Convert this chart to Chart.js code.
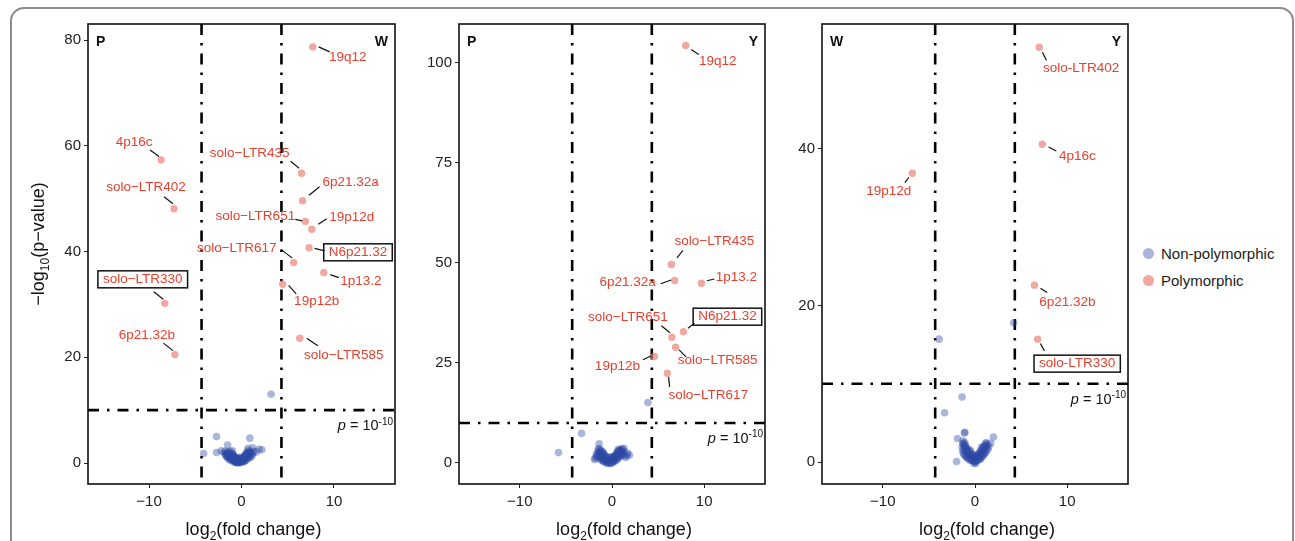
<!DOCTYPE html>
<html>
<head>
<meta charset="utf-8">
<script src="https://cdn.jsdelivr.net/npm/chart.js@4.4.0/dist/chart.umd.min.js"></script>
<style>
  html, body { margin: 0; padding: 0; background: #fff; }
  body { width: 1295px; height: 541px; position: relative; overflow: hidden; font-family: "Liberation Sans", Arial, sans-serif; }
  .frame { position: absolute; left: 10px; top: 7px; width: 1280px; height: 600px; border: 2px solid #8c8c8c; border-radius: 14px; }
  canvas { position: absolute; top: 0; }
  .legend { position: absolute; left: 1143px; top: 240px; font-size: 15px; color: #222; }
  .legend .row { height: 27px; display: flex; align-items: center; }
  .legend .dot { width: 11px; height: 11px; border-radius: 50%; margin-right: 7px; }
</style>
</head>
<body>
<div class="frame"></div>
<canvas id="c1" width="420" height="541" style="left:0px"></canvas>
<canvas id="c2" width="370" height="541" style="left:420px"></canvas>
<canvas id="c3" width="350" height="541" style="left:790px"></canvas>
<div class="legend">
  <div class="row"><span class="dot" style="background:#a9b5dd"></span>Non-polymorphic</div>
  <div class="row"><span class="dot" style="background:#f2a7a0"></span>Polymorphic</div>
</div>
<script>
// thresholds
const fcCutoff = 4.32
const pCutoff = 10

const xTicks = [-10, 0, 10]

// --- panel 1: P vs W ---
const p1Corner = ['P', 'W']
const p1YTicks = [0, 20, 40, 60, 80]
const p1Names = ['19q12', '4p16c', 'solo−LTR402', 'solo−LTR435', '6p21.32a', 'solo−LTR651', '19p12d', 'N6p21.32', 'solo−LTR617', '1p13.2', '19p12b', 'solo−LTR330', 'solo−LTR585', '6p21.32b']
const p1Fc = [7.7, -8.7, -7.3, 6.5, 6.6, 6.9, 7.6, 7.3, 5.65, 8.9, 4.45, -8.3, 6.3, -7.2]
const p1LogP = [78.7, 57.3, 48.1, 54.8, 49.6, 45.7, 44.2, 40.7, 37.9, 36.0, 33.8, 30.2, 23.6, 20.5]
const p1Boxed = ['N6p21.32', 'solo−LTR330']
const p1NonPoly = [
    [3.2, 13.0], [-4.1, 1.8], [-2.7, 5.0], [-2.7, 2.0], [-2.2, 2.3], [-1.5, 3.4], [0.9, 4.7], [0.7, 2.8],
    [1.2, 2.9], [1.9, 2.6], [1.6, 2.1], [2.2, 2.5], [-1.9, 1.9], [-1.8, 2.2], [1.3, 2.2],
    [-1.7, 1.8], [-1.6, 1.6], [-1.5, 1.5], [-1.4, 1.3], [-1.3, 1.2], [-1.2, 1.0], [-1.1, 0.9], [-1.0, 0.8],
    [-0.9, 0.6], [-0.8, 0.5], [-0.7, 0.4], [-0.6, 0.3], [-0.5, 0.2], [-0.4, 0.15], [-0.3, 0.1], [-0.2, 0.15],
    [-0.1, 0.25], [0.0, 0.35], [0.1, 0.5], [0.2, 0.6], [0.3, 0.75], [0.4, 0.9], [0.5, 1.05], [0.6, 1.2],
    [0.7, 1.4], [0.8, 1.6], [0.9, 1.8], [1.0, 2.0], [-1.4, 1.9], [-1.2, 1.6], [-1.0, 1.3], [-0.8, 1.0],
    [-0.6, 0.7], [-0.4, 0.5], [0.2, 0.9], [0.4, 1.3], [0.6, 1.6], [0.8, 2.0], [-1.6, 1.2], [-1.3, 0.8],
    [0.9, 1.3], [1.1, 1.6], [-0.9, 1.1], [0.3, 0.4], [-0.2, 0.4],
    [-1.5, 2.2], [-1.3, 1.9], [-1.1, 1.6], [-0.9, 1.4], [-0.7, 1.1], [-0.5, 0.8], [-0.3, 0.6], [-0.1, 0.6],
    [0.1, 0.8], [0.3, 1.1], [0.5, 1.4], [0.7, 1.8], [0.9, 2.2], [-1.7, 1.4], [-1.5, 1.0], [-1.3, 0.6],
    [-1.1, 0.5], [-0.9, 0.3], [-0.7, 0.15], [-0.5, 0.05], [0.1, 0.15], [0.3, 0.3], [0.5, 0.5], [0.7, 0.8],
    [0.9, 1.0], [1.1, 1.3], [1.2, 1.8], [-0.6, 0.05], [-0.2, 0.0],
    [-1.0, 1.8], [-0.9, 1.6], [-0.8, 1.3], [-0.6, 1.0], [-0.4, 0.8], [-0.2, 0.8], [0.0, 0.9], [0.2, 1.1],
    [0.35, 1.4], [0.45, 1.7], [0.55, 2.0], [-1.2, 2.2], [-1.0, 2.3], [0.7, 2.3], [-0.3, 1.0], [-0.1, 1.1],
    [-1.5, 1.8]
]

// --- panel 2: P vs Y ---
const p2Corner = ['P', 'Y']
const p2YTicks = [0, 25, 50, 75, 100]
const p2Names = ['19q12', 'solo−LTR435', '6p21.32a', '1p13.2', 'N6p21.32', 'solo−LTR651', 'solo−LTR585', '19p12b', 'solo−LTR617']
const p2Fc = [8.0, 6.45, 6.8, 9.7, 7.75, 6.5, 6.9, 4.6, 6.0]
const p2LogP = [104.3, 49.6, 45.6, 44.9, 32.8, 31.4, 28.9, 26.6, 22.4]
const p2Boxed = ['N6p21.32']
const p2NonPoly = [
    [3.9, 15.1], [-3.3, 7.4], [-5.8, 2.6], [-1.4, 4.8], [1.0, 3.3], [1.3, 3.6], [1.7, 2.4], [1.9, 2.0],
    [-1.9, 0.9], [-1.7, 1.6], [1.5, 1.4], [-1.6, 1.9], [-1.2, 2.9], [0.8, 3.1], [1.3, 1.9],
    [-1.5, 2.8], [-1.4, 2.5], [-1.3, 2.2], [-1.2, 1.9], [-1.1, 1.6], [-1.0, 1.4], [-0.9, 1.1], [-0.8, 0.9],
    [-0.7, 0.7], [-0.6, 0.5], [-0.5, 0.3], [-0.4, 0.2], [-0.3, 0.1], [-0.2, 0.15], [-0.1, 0.3], [0.0, 0.5],
    [0.1, 0.7], [0.2, 0.9], [0.3, 1.1], [0.4, 1.3], [0.5, 1.6], [0.6, 1.9], [0.7, 2.2], [0.8, 2.5],
    [0.9, 2.8], [1.0, 3.0], [1.2, 2.6], [-1.3, 1.4], [-1.1, 1.0], [-0.9, 0.6], [0.3, 0.5], [0.6, 1.0],
    [0.9, 1.6], [1.1, 2.0], [-0.6, 1.0], [0.2, 1.5],
    [-1.5, 3.4], [-1.3, 2.9], [-1.1, 2.4], [-0.9, 1.9], [-0.7, 1.5], [-0.5, 1.1], [-0.3, 0.8], [-0.1, 0.9],
    [0.1, 1.3], [0.3, 1.7], [0.5, 2.2], [0.7, 2.7], [0.9, 3.3], [-1.7, 2.3], [-1.5, 1.7], [-1.3, 1.0],
    [-1.1, 0.6], [-0.9, 0.3], [-0.7, 0.1], [0.1, 0.2], [0.3, 0.5], [0.5, 0.9], [0.7, 1.3], [0.9, 1.9],
    [1.1, 2.4], [1.3, 3.0], [-0.5, -0.1], [-0.2, -0.2],
    [-1.2, 3.2], [-1.0, 2.8], [-0.9, 2.4], [-0.8, 2.0], [-0.6, 1.6], [-0.4, 1.3], [-0.2, 1.2], [0.0, 1.3],
    [0.2, 1.6], [0.4, 2.0], [0.5, 2.5], [0.6, 3.0], [0.7, 3.4], [-1.4, 3.6], [1.1, 3.6], [-0.1, 1.6],
    [0.0, 0.0], [-1.8, 1.2], [1.6, 1.8]
]

// --- panel 3: W vs Y ---
const p3Corner = ['W', 'Y']
const p3YTicks = [0, 20, 40]
const p3Names = ['solo-LTR402', '4p16c', '19p12d', '6p21.32b', 'solo-LTR330']
const p3Fc = [6.96, 7.3, -6.8, 6.45, 6.8]
const p3LogP = [53.0, 40.6, 36.9, 22.6, 15.7]
const p3Boxed = ['solo-LTR330']
const p3NonPoly = [
    [-3.9, 15.7], [4.2, 17.8], [-1.4, 8.3], [-3.3, 6.3], [-1.1, 3.8], [-1.15, 3.7], [-1.9, 3.0], [-2.0, 0.05],
    [2.0, 3.2], [1.7, 2.4], [-1.3, 2.4],
    [-1.3, 2.3], [-1.2, 2.0], [-1.1, 1.8], [-1.0, 1.5], [-0.9, 1.3], [-0.8, 1.1], [-0.7, 0.9], [-0.6, 0.7],
    [-0.5, 0.5], [-0.4, 0.35], [-0.3, 0.2], [-0.2, 0.1], [-0.1, 0.05], [0.0, 0.05], [0.1, 0.1], [0.2, 0.2],
    [0.3, 0.35], [0.4, 0.5], [0.5, 0.7], [0.6, 0.9], [0.7, 1.1], [0.8, 1.3], [0.9, 1.5], [1.0, 1.7],
    [1.1, 1.9], [1.2, 2.1], [1.3, 2.3], [-1.2, 1.0], [-1.0, 0.7], [-0.8, 0.5], [0.6, 0.4], [0.8, 0.7],
    [1.0, 1.0], [-0.5, 1.0], [0.3, 0.8], [1.4, 1.6], [-1.3, 1.5], [1.2, 1.3], [-0.2, 0.5], [0.1, 0.4],
    [-1.3, 2.7], [-1.1, 2.2], [-0.9, 1.7], [-0.7, 1.3], [-0.5, 0.9], [-0.3, 0.6], [-0.1, 0.45], [0.1, 0.5],
    [0.3, 0.75], [0.5, 1.1], [0.7, 1.5], [0.9, 1.9], [1.1, 2.3], [-1.4, 1.9], [-1.3, 1.2], [-1.1, 0.9],
    [-0.9, 0.6], [-0.7, 0.4], [-0.5, 0.2], [0.5, 0.3], [0.7, 0.6], [0.9, 0.9], [1.1, 1.2], [1.3, 1.8],
    [1.5, 2.0], [-0.1, -0.2], [0.1, -0.15],
    [-1.0, 2.0], [-0.8, 1.7], [-0.6, 1.4], [-0.4, 1.1], [-0.2, 0.9], [0.0, 0.8], [0.2, 0.9], [0.4, 1.1],
    [0.6, 1.4], [0.8, 1.7], [1.0, 2.0], [-1.1, 2.5], [1.2, 2.5], [-0.5, 1.5], [0.7, 1.9]
]

// label placement in px relative to the point: text dx, dy, then leader line x1, y1, x2, y2
const p1LabelPos = [
    [35, 10, 6, 0, 17, 5], [-27, -18, -11, -10, -2, -3.5], [-28, -21, -10, -12, -1, -5],
    [-52, -20, -11, -12, -2.5, -5], [48, -18, 6.5, -5.5, 17, -14], [-50, -5, -10, -2, -3, -0.5],
    [40, -12, 6.5, -5, 15, -10.5], [49, 4.5, 5.5, 0.5, 15.7, 3], [-57, -14, -12.5, -13, -1.5, -4.5],
    [37, 8.5, 6.5, 2, 15, 5], [34, 17, 6, 1, 13.5, 9.5], [-22, -24, -11, -11.5, -1.5, -4],
    [44, 17, 7, 0, 18, 7.5], [-28, -19, -11.5, -11.5, -2, -4]
]
const p2LabelPos = [
    [32, 16, 5.5, 4, 13, 9], [43, -23, 5.5, -6.5, 11.5, -14], [-47, 2, -14, 3.3, -3.5, -0.5],
    [35, -5.5, 5.5, -2.5, 13, -4.3], [44, -15, 4.5, -3.5, 11, -8.5], [-44, -20, -10.5, -11.5, -2, -4.5],
    [42, 12.5, 3.5, 2.5, 10.5, 9.5], [-37, 9.5, -11.5, 3.3, -3.5, -0.5], [41, 21.5, 1.3, 3.5, 2.3, 13.5]
]
const p3LabelPos = [
    [42, 21.5, 3.3, 5, 7.3, 13.3], [35, 11.5, 6.3, 2.7, 14, 6.7], [-23.5, 18.5, -3.4, 4, -7.4, 9.4],
    [33, 17, 6, 3, 12.7, 7.4], [39.5, 24.5, 2.7, 4.3, 6.7, 11.7]
]

Chart.defaults.font.family = '"Liberation Sans", Arial, sans-serif'
const FONT = '"Liberation Sans", Arial, sans-serif'
const labelRed = '#e8402f'

function fmtTick(v) {
    return v < 0 ? '−' + Math.abs(v) : String(v)
}

// draw text made of parts with different sizes / offsets
function drawRich(ctx, parts, x, y, align) {
    let total = 0
    parts.forEach(p => {
        ctx.font = (p.style || '') + ' ' + p.size + 'px ' + FONT
        p.w = ctx.measureText(p.t).width
        total += p.w
    })
    let cx = align === 'center' ? x - total / 2 : align === 'right' ? x - total : x
    ctx.textAlign = 'left'
    ctx.textBaseline = 'alphabetic'
    parts.forEach(p => {
        ctx.font = (p.style || '') + ' ' + p.size + 'px ' + FONT
        ctx.fillText(p.t, cx, y + (p.dy || 0))
        cx += p.w
    })
}

function makeVolcano(id, opts) {
    const decor = {
        id: 'decor',
        beforeDatasetsDraw(chart) {
            const { ctx, chartArea: a, scales: { x, y } } = chart
            ctx.save()
            ctx.strokeStyle = '#000'
            ctx.lineWidth = 2.6
            ctx.lineCap = 'butt'
            ctx.setLineDash([11, 8, 2.5, 8])
            ;[-fcCutoff, fcCutoff].forEach(v => {
                const px = x.getPixelForValue(v)
                ctx.beginPath(); ctx.moveTo(px, a.top); ctx.lineTo(px, a.bottom); ctx.stroke()
            })
            const py = y.getPixelForValue(pCutoff)
            ctx.beginPath(); ctx.moveTo(a.left, py); ctx.lineTo(a.right, py); ctx.stroke()
            ctx.restore()
        },
        afterDatasetsDraw(chart) {
            const { ctx, chartArea: a, scales: { x, y } } = chart
            ctx.save()
            // frame
            ctx.strokeStyle = '#111'
            ctx.lineWidth = 1.6
            ctx.strokeRect(a.left, a.top, a.right - a.left, a.bottom - a.top)

            // corner letters
            ctx.fillStyle = '#111'
            ctx.font = 'bold 14px ' + FONT
            ctx.textBaseline = 'alphabetic'
            ctx.textAlign = 'left'
            ctx.fillText(opts.corner[0], a.left + 8, a.top + 22)
            ctx.textAlign = 'right'
            ctx.fillText(opts.corner[1], a.right - 7, a.top + 22)

            // p threshold note
            ctx.fillStyle = '#111'
            const py = y.getPixelForValue(pCutoff)
            drawRich(ctx, [
                { t: 'p', size: 14.5, style: 'italic' },
                { t: ' = 10', size: 14.5 },
                { t: '-10', size: 10, dy: -5.5 }
            ], a.right - 2, py + 20, 'right')

            // labels with leader lines
            const meta = chart.getDatasetMeta(1)
            opts.names.forEach((name, i) => {
                const pt = meta.data[i]
                const [dx, dy, x1, y1, x2, y2] = opts.labelPos[i]
                ctx.strokeStyle = '#111'
                ctx.lineWidth = 1.2
                ctx.setLineDash([])
                ctx.beginPath()
                ctx.moveTo(pt.x + x1, pt.y + y1)
                ctx.lineTo(pt.x + x2, pt.y + y2)
                ctx.stroke()
                ctx.font = '13.5px ' + FONT
                ctx.textAlign = 'center'
                ctx.textBaseline = 'middle'
                ctx.fillStyle = labelRed
                const tx = pt.x + dx, ty = pt.y + dy
                ctx.fillText(name, tx, ty)
                if (opts.boxed.includes(name)) {
                    const w = ctx.measureText(name).width + 10
                    ctx.strokeStyle = '#111'
                    ctx.lineWidth = 1.5
                    ctx.strokeRect(tx - w / 2, ty - 8.5, w, 17)
                }
            })

            // axis titles
            ctx.fillStyle = '#111'
            drawRich(ctx, [
                { t: 'log', size: 18 },
                { t: '2', size: 12, dy: 5 },
                { t: '(fold change)', size: 18 }
            ], (a.left + a.right) / 2 + 12, 535, 'center')

            if (opts.yTitle) {
                ctx.translate(44, 244)
                ctx.rotate(-Math.PI / 2)
                drawRich(ctx, [
                    { t: '−log', size: 18 },
                    { t: '10', size: 12, dy: 5 },
                    { t: '(p−value)', size: 18 }
                ], 0, 0, 'center')
            }
            ctx.restore()
        }
    }

    const tickStyle = { color: '#222', font: { size: 15 } }
    const gridStyle = { display: true, drawOnChartArea: false, drawTicks: true, tickLength: 4, tickColor: '#222', tickWidth: 1 }

    return new Chart(document.getElementById(id), {
        type: 'scatter',
        data: {
            datasets: [{
                label: 'Non-polymorphic',
                data: opts.nonPoly.map(p => ({ x: p[0], y: p[1] })),
                backgroundColor: 'rgba(45, 72, 165, 0.4)',
                borderWidth: 0,
                pointRadius: 3.8
            }, {
                label: 'Polymorphic',
                data: opts.fc.map((v, i) => ({ x: v, y: opts.logp[i] })),
                backgroundColor: 'rgba(236, 130, 120, 0.7)',
                borderWidth: 0,
                pointRadius: 3.7
            }]
        },
        options: {
            responsive: false,
            animation: false,
            devicePixelRatio: 1,
            layout: { padding: { left: 0, top: 24, right: opts.padRight, bottom: 27 } },
            plugins: { legend: { display: false }, tooltip: { enabled: false } },
            scales: {
                x: {
                    type: 'linear', min: -16.6, max: 16.6,
                    afterBuildTicks: s => { s.ticks = xTicks.map(v => ({ value: v })) },
                    afterFit: s => { s.height = 30 },
                    ticks: { ...tickStyle, padding: 5, callback: fmtTick },
                    grid: gridStyle,
                    border: { display: false }
                },
                y: {
                    type: 'linear', min: opts.yMin, max: opts.yMax,
                    afterBuildTicks: s => { s.ticks = opts.yTicks.map(v => ({ value: v })) },
                    afterFit: s => { s.width = opts.yAxisWidth },
                    ticks: { ...tickStyle, padding: 3, callback: fmtTick },
                    grid: gridStyle,
                    border: { display: false }
                }
            }
        },
        plugins: [decor]
    })
}

makeVolcano('c1', {
    corner: p1Corner, yTicks: p1YTicks, names: p1Names, fc: p1Fc, logp: p1LogP, boxed: p1Boxed,
    nonPoly: p1NonPoly, labelPos: p1LabelPos, yMin: -3.97, yMax: 83.03, yAxisWidth: 88, padRight: 25, yTitle: true
})
makeVolcano('c2', {
    corner: p2Corner, yTicks: p2YTicks, names: p2Names, fc: p2Fc, logp: p2LogP, boxed: p2Boxed,
    nonPoly: p2NonPoly, labelPos: p2LabelPos, yMin: -5.25, yMax: 109.67, yAxisWidth: 39, padRight: 25
})
makeVolcano('c3', {
    corner: p3Corner, yTicks: p3YTicks, names: p3Names, fc: p3Fc, logp: p3LogP, boxed: p3Boxed,
    nonPoly: p3NonPoly, labelPos: p3LabelPos, yMin: -2.81, yMax: 55.97, yAxisWidth: 32, padRight: 12
})
</script>
</body>
</html>
